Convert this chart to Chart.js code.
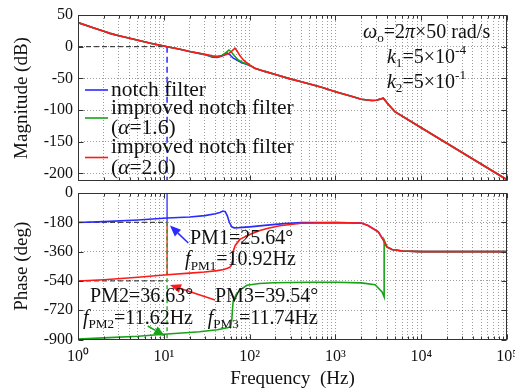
<!DOCTYPE html>
<html><head><meta charset="utf-8">
<script src="https://cdn.jsdelivr.net/npm/chart.js@4.4.1/dist/chart.umd.min.js"></script>
<style>
html,body{margin:0;padding:0;background:#fff;}
#wrap{position:relative;width:515px;height:390px;overflow:hidden;background:#fff;}
#box1{position:absolute;left:0;top:0;width:515px;height:190px;}
#box2{position:absolute;left:0;top:186px;width:515px;height:204px;}
</style></head><body>
<div id="wrap"><div id="box1"><canvas id="c1"></canvas></div><div id="box2"><canvas id="c2"></canvas></div></div>
<script>
// ---------------- data ----------------
const freqMin = 1, freqMax = 100000;
const magMin = -212, magMax = 50;
const phaseMin = -900, phaseMax = 0;
const magTicks = [50, 0, -50, -100, -150, -200];
const phaseTicks = [0, -180, -360, -540, -720, -900];
const xMajorTicks = [1, 10, 100, 1000, 10000, 100000];
const xTickLabels = ['10⁰', '10¹', '10²', '10³', '10⁴', '10⁵'];
const xMinorMultipliers = [2, 3, 4, 5, 6, 7, 8, 9];

const seriesNames = ['notch filter', 'improved notch filter', 'improved notch filter'];
const seriesAlpha = [null, '1.6', '2.0'];

// magnitude (dB)
const magFreqNotch = [1,1.5,2,2.36,3,4,5,7,10,10.92,15,20,30,37,42,47,51,54,58,64.5,80,101,115,150,200,283,400,690,1000,1500,2000,2640,3000,3620,4200,4930,10000,100000];
const magNotch     = [38,30,24.2,21,17.4,13.2,10,5.3,1,0,-3.8,-7.5,-12.5,-16.5,-17,-15,-12,-9.5,-12,-18,-25,-29.5,-34,-39,-44,-50,-55.5,-64,-71,-78,-83,-85,-84.5,-81.4,-92,-102.5,-128,-210];
const magFreqImp16 = [1,1.5,2,2.36,3,4,5,7,10,10.92,15,20,30,37,42,48,53,57.5,61,66,73.8,85,101,115,150,200,283,400,690,1000,1500,2000,2640,3000,3620,4200,4930,10000,100000];
const magImp16     = [38,30,24.2,21,17.4,13.2,10,5.3,1,0,-3.8,-7.5,-12.2,-15.5,-15.8,-13.5,-9.5,-5.2,-8,-14,-21,-25.5,-29.5,-34,-39,-44,-50,-55.5,-64,-71,-78,-83,-85,-84.5,-81.4,-92,-102.5,-128,-210];
const magFreqImp20 = [1,1.5,2,2.36,3,4,5,7,10,10.92,15,20,30,37,42,50,57,62,67.5,71,77,84.5,92,101,115,150,200,283,400,690,1000,1500,2000,2640,3000,3620,4200,4930,10000,100000];
const magImp20     = [38,30,24.2,21,17.4,13.2,10,5.3,1,0,-3.8,-7.5,-12,-14.5,-15,-14,-11,-7,-2.5,-6,-14,-21,-25,-29,-34,-39,-44,-50,-55.5,-64,-71,-78,-83,-85,-84.5,-81.4,-92,-102.5,-128,-210];

// phase (deg)
const phFreqNotch = [1,2,5,10.92,20,30,40,45,49,52,55,58,62,66,75,100,150,250,400,1000,2000,2400,3160,3630,3980,4570,6030,10000,100000];
const phNotch     = [-181,-176,-166,-154,-147,-139,-128,-120,-111,-115,-140,-180,-208,-214,-213,-208,-199,-188,-182,-181,-185,-200,-238,-290,-331,-347,-356,-360,-360];
const phFreqImp16 = [1,2,5,10.92,20,26,42,55,60,62,63.5,64.5,70,80,93,130,190,500,1000,2000,2900,3500,3700,3700,3980,4570,6030,10000,100000];
const phImp16     = [-897,-890,-880,-866,-857,-852,-840,-828,-822,-780,-700,-660,-622,-590,-567,-556,-551,-548,-548,-552,-563,-608,-639,-290,-331,-347,-356,-360,-360];
const phFreqImp20 = [1,2,5,10.92,20,30,42,50,54,58,61,63,64,68,77,100,132,160,225,400,1000,2000,2400,3160,3630,3980,4570,6030,10000,100000];
const phImp20     = [-541,-533,-518,-502,-492,-485,-477,-470,-464,-458,-448,-420,-362,-322,-285,-255,-230,-218,-201,-186,-182,-185,-200,-238,-290,-331,-347,-356,-360,-360];

// crossover / phase margin markers
const fCross = 10.92;
const pmPhaseRefs = [-180, -540, -900];

// annotation texts
const pmTextItems = [
  { segs: [{t:'PM1=25.64°'}], f: 20.2, p: -278 },
  { segs: [{t:'f',i:1},{t:'PM1',sub:1},{t:'=10.92Hz'}], f: 17.7, p: -412 },
  { segs: [{t:'PM2=36.63°'}], f: 1.38, p: -637 },
  { segs: [{t:'f',i:1},{t:'PM2',sub:1},{t:'=11.62Hz'}], f: 1.14, p: -770 },
  { segs: [{t:'PM3=39.54°'}], f: 39.5, p: -637 },
  { segs: [{t:'f',i:1},{t:'PM3',sub:1},{t:'=11.74Hz'}], f: 32.5, p: -770 }
];
const pmArrows = [
  { from: [19.3, -307], to: [11.8, -200], s: 0 },
  { from: [39.5, -657], to: [11.8, -565], s: 2 },
  { from: [6.5, -817], to: [10.3, -878], s: 1 }
];
const infoLines = [
  { segs: [{t:'ω',i:1},{t:'o',sub:1},{t:'=2'},{t:'π',i:1},{t:'×50 rad/s'}], f: 2099, db: 21.6 },
  { segs: [{t:'k',i:1},{t:'1',sub:1},{t:'=5×10'},{t:'-4',sup:1}], f: 3990, db: -17.8 },
  { segs: [{t:'k',i:1},{t:'2',sub:1},{t:'=5×10'},{t:'-1',sup:1}], f: 3990, db: -56.8 }
];

// ---------------- styles ----------------
const FONT = '"Liberation Serif", "Times New Roman", Times, serif';
const INK = '#111';
const COLORS = ['#2b2bff', '#17a317', '#ff1a1a'];
const GRID = 'rgba(0,0,0,0.38)';

const pts = (xs, ys) => xs.map((x, i) => ({ x: x, y: ys[i] }));

function drawRich(ctx, segs, x, y, size, align) {
  const fontOf = s => ((s.i ? 'italic ' : '') + ((s.sub || s.sup) ? size * 0.66 : size) + 'px ' + FONT);
  let w = 0;
  const ws = segs.map(s => { ctx.font = fontOf(s); const m = ctx.measureText(s.t).width; w += m; return m; });
  let cx = align === 'right' ? x - w : (align === 'center' ? x - w / 2 : x);
  ctx.textBaseline = 'middle'; ctx.textAlign = 'left'; ctx.fillStyle = INK;
  segs.forEach((s, k) => {
    ctx.font = fontOf(s);
    const dy = s.sub ? size * 0.3 : (s.sup ? -size * 0.36 : 0);
    ctx.fillText(s.t, cx, y + dy);
    cx += ws[k];
  });
}

function drawArrow(ctx, x1, y1, x2, y2, color) {
  const a = Math.atan2(y2 - y1, x2 - x1), L = 11, W = 4.5;
  const bx = x2 - L * Math.cos(a), by = y2 - L * Math.sin(a);
  ctx.strokeStyle = color; ctx.fillStyle = color; ctx.lineWidth = 1.5; ctx.setLineDash([]);
  ctx.beginPath(); ctx.moveTo(x1, y1); ctx.lineTo(bx, by); ctx.stroke();
  ctx.beginPath(); ctx.moveTo(x2, y2);
  ctx.lineTo(bx + W * Math.sin(a), by - W * Math.cos(a));
  ctx.lineTo(bx - W * Math.sin(a), by + W * Math.cos(a));
  ctx.closePath(); ctx.fill();
}

function frame(chart) {
  const { ctx, chartArea: a } = chart;
  const xs = chart.scales.x, ys = chart.scales.y;
  ctx.save();
  ctx.setLineDash([]); ctx.strokeStyle = '#333'; ctx.lineWidth = 1;
  const l = Math.round(a.left) + 0.5, t = Math.round(a.top) + 0.5, r = Math.round(a.right) - 0.5, b = Math.round(a.bottom) - 0.5;
  ctx.strokeRect(l, t, r - l, b - t);
  ctx.beginPath();
  xs.ticks.forEach(tk => {
    const px = Math.round(xs.getPixelForValue(tk.value)) + 0.5;
    const len = tk.major ? 5 : 3;
    ctx.moveTo(px, b); ctx.lineTo(px, b - len);
    ctx.moveTo(px, t); ctx.lineTo(px, t + len);
  });
  ys.ticks.forEach(tk => {
    const py = Math.round(ys.getPixelForValue(tk.value)) + 0.5;
    ctx.moveTo(l, py); ctx.lineTo(l + 5, py);
    ctx.moveTo(r, py); ctx.lineTo(r - 5, py);
  });
  ctx.stroke();
  ctx.restore();
}

function buildXTicks(scale) {
  const t = [];
  xMajorTicks.forEach((m, k) => {
    t.push({ value: m, major: true });
    if (k < xMajorTicks.length - 1) xMinorMultipliers.forEach(s => t.push({ value: s * m, major: false }));
  });
  scale.ticks = t;
}

function xScale(showLabels, height) {
  return {
    type: 'logarithmic', min: freqMin, max: freqMax, position: 'bottom',
    afterBuildTicks: buildXTicks,
    afterFit: s => { s.paddingLeft = 0; s.paddingRight = 0; if (height !== undefined) s.height = height; },
    grid: { color: GRID, lineWidth: 1, drawTicks: false },
    border: { display: false, dash: [1, 2] },
    ticks: {
      display: showLabels, autoSkip: false, maxRotation: 0, padding: 8, color: INK,
      font: { family: FONT, size: 16 },
      callback: function (v) { const k = xMajorTicks.indexOf(v); return k >= 0 ? xTickLabels[k] : ''; }
    },
    title: showLabels ? { display: true, text: 'Frequency  (Hz)', color: INK, font: { family: FONT, size: 19 }, padding: 0 } : { display: false }
  };
}

function yScale(min, max, ticks, title) {
  return {
    min: min, max: max,
    afterBuildTicks: s => { s.ticks = ticks.map(v => ({ value: v })); },
    afterFit: s => { s.width = 78; s.paddingTop = 0; s.paddingBottom = 0; },
    grid: { color: GRID, lineWidth: 1, drawTicks: false },
    border: { display: false, dash: [1, 2] },
    ticks: { padding: 5, color: INK, font: { family: FONT, size: 16 }, callback: v => String(v) },
    title: { display: true, text: title, color: INK, font: { family: FONT, size: 19 }, padding: { top: 11, bottom: 0 } }
  };
}

const lineDefaults = { pointRadius: 0, borderWidth: 1.6, tension: 0, fill: false };

// ---------------- chart 1 : magnitude ----------------
const magPlugin = {
  id: 'magOverlay',
  afterDraw(chart) {
    frame(chart);
    const { ctx, chartArea: a } = chart;
    const xs = chart.scales.x, ys = chart.scales.y;
    ctx.save();
    // legend
    const rowY = [75, 93, 113, 132, 153];
    let r = 0;
    seriesNames.forEach((name, k) => {
      const lines = [[{ t: name }]];
      if (seriesAlpha[k]) lines.push([{ t: '(' }, { t: 'α', i: 1 }, { t: '=' + seriesAlpha[k] + ')' }]);
      const ysRow = lines.map((_, j) => a.top + rowY[r + j]);
      const sy = ysRow.reduce((p, q) => p + q, 0) / ysRow.length;
      ctx.strokeStyle = COLORS[k]; ctx.lineWidth = 1.6; ctx.setLineDash([]);
      ctx.beginPath(); ctx.moveTo(a.left + 7, sy); ctx.lineTo(a.left + 30, sy); ctx.stroke();
      lines.forEach((ln, j) => drawRich(ctx, ln, a.left + 33, ysRow[j], 21.5, 'left'));
      r += lines.length;
    });
    // parameter text
    infoLines.forEach(it => drawRich(ctx, it.segs, xs.getPixelForValue(it.f), ys.getPixelForValue(it.db), 20, 'left'));
    ctx.restore();
  }
};

new Chart(document.getElementById('c1'), {
  type: 'line',
  data: {
    datasets: [
      Object.assign({ label: seriesNames[2] + ' (α=2.0)', data: pts(magFreqImp20, magImp20), borderColor: COLORS[2], order: 0 }, lineDefaults),
      Object.assign({ label: seriesNames[1] + ' (α=1.6)', data: pts(magFreqImp16, magImp16), borderColor: COLORS[1], order: 1 }, lineDefaults),
      Object.assign({ label: seriesNames[0], data: pts(magFreqNotch, magNotch), borderColor: COLORS[0], order: 2 }, lineDefaults),
      Object.assign({ label: '0 dB', data: pts([freqMin, fCross], [0, 0]), borderColor: '#222', order: 3 }, lineDefaults, { borderWidth: 1, borderDash: [5, 3] }),
      Object.assign({ label: 'crossover', data: pts([fCross, fCross], [0, magMin]), borderColor: COLORS[0], order: 3 }, lineDefaults, { borderWidth: 1.5, borderDash: [6, 4] })
    ]
  },
  options: {
    responsive: true, maintainAspectRatio: false, animation: false, devicePixelRatio: 1,
    layout: { padding: { left: 0, right: 8, top: 15, bottom: 9 } },
    plugins: { legend: { display: false }, tooltip: { enabled: false } },
    scales: { x: xScale(false), y: yScale(magMin, magMax, magTicks, 'Magnitude (dB)') }
  },
  plugins: [magPlugin]
});

// ---------------- chart 2 : phase ----------------
const phPlugin = {
  id: 'phOverlay',
  afterDraw(chart) {
    frame(chart);
    const { ctx } = chart;
    const xs = chart.scales.x, ys = chart.scales.y;
    ctx.save();
    pmArrows.forEach(ar => drawArrow(ctx,
      xs.getPixelForValue(ar.from[0]), ys.getPixelForValue(ar.from[1]),
      xs.getPixelForValue(ar.to[0]), ys.getPixelForValue(ar.to[1]), COLORS[ar.s]));
    pmTextItems.forEach(it => drawRich(ctx, it.segs, xs.getPixelForValue(it.f), ys.getPixelForValue(it.p), 20, 'left'));
    ctx.restore();
  }
};

const refSets = pmPhaseRefs.map(p => Object.assign({ label: 'ref ' + p, data: pts([freqMin, fCross], [p, p]), borderColor: '#222', order: 4 }, lineDefaults, { borderWidth: 1, borderDash: [5, 3] }));

new Chart(document.getElementById('c2'), {
  type: 'line',
  data: {
    datasets: [
      Object.assign({ label: seriesNames[2] + ' (α=2.0)', data: pts(phFreqImp20, phImp20), borderColor: COLORS[2], order: 0 }, lineDefaults),
      Object.assign({ label: seriesNames[1] + ' (α=1.6)', data: pts(phFreqImp16, phImp16), borderColor: COLORS[1], order: 1 }, lineDefaults),
      Object.assign({ label: seriesNames[0], data: pts(phFreqNotch, phNotch), borderColor: COLORS[0], order: 2 }, lineDefaults),
      Object.assign({ label: 'v blue', data: pts([fCross, fCross], [phaseMax, pmPhaseRefs[0]]), borderColor: COLORS[0], order: 3 }, lineDefaults, { borderWidth: 1.3 }),
      Object.assign({ label: 'v green', data: pts([fCross, fCross], [pmPhaseRefs[0], phaseMin]), borderColor: COLORS[1], order: 3 }, lineDefaults, { borderWidth: 1.3, borderDash: [4, 3] }),
      Object.assign({ label: 'v red', data: pts([fCross, fCross], [pmPhaseRefs[0], phImp20[3]]), borderColor: COLORS[2], order: 3.5 }, lineDefaults, { borderWidth: 1.3 })
    ].concat(refSets)
  },
  options: {
    responsive: true, maintainAspectRatio: false, animation: false, devicePixelRatio: 1,
    layout: { padding: { left: 0, right: 8, top: 7, bottom: 0 } },
    plugins: { legend: { display: false }, tooltip: { enabled: false } },
    scales: { x: xScale(true, 50.5), y: yScale(phaseMin, phaseMax, phaseTicks, 'Phase (deg)') }
  },
  plugins: [phPlugin]
});
</script></body></html>
